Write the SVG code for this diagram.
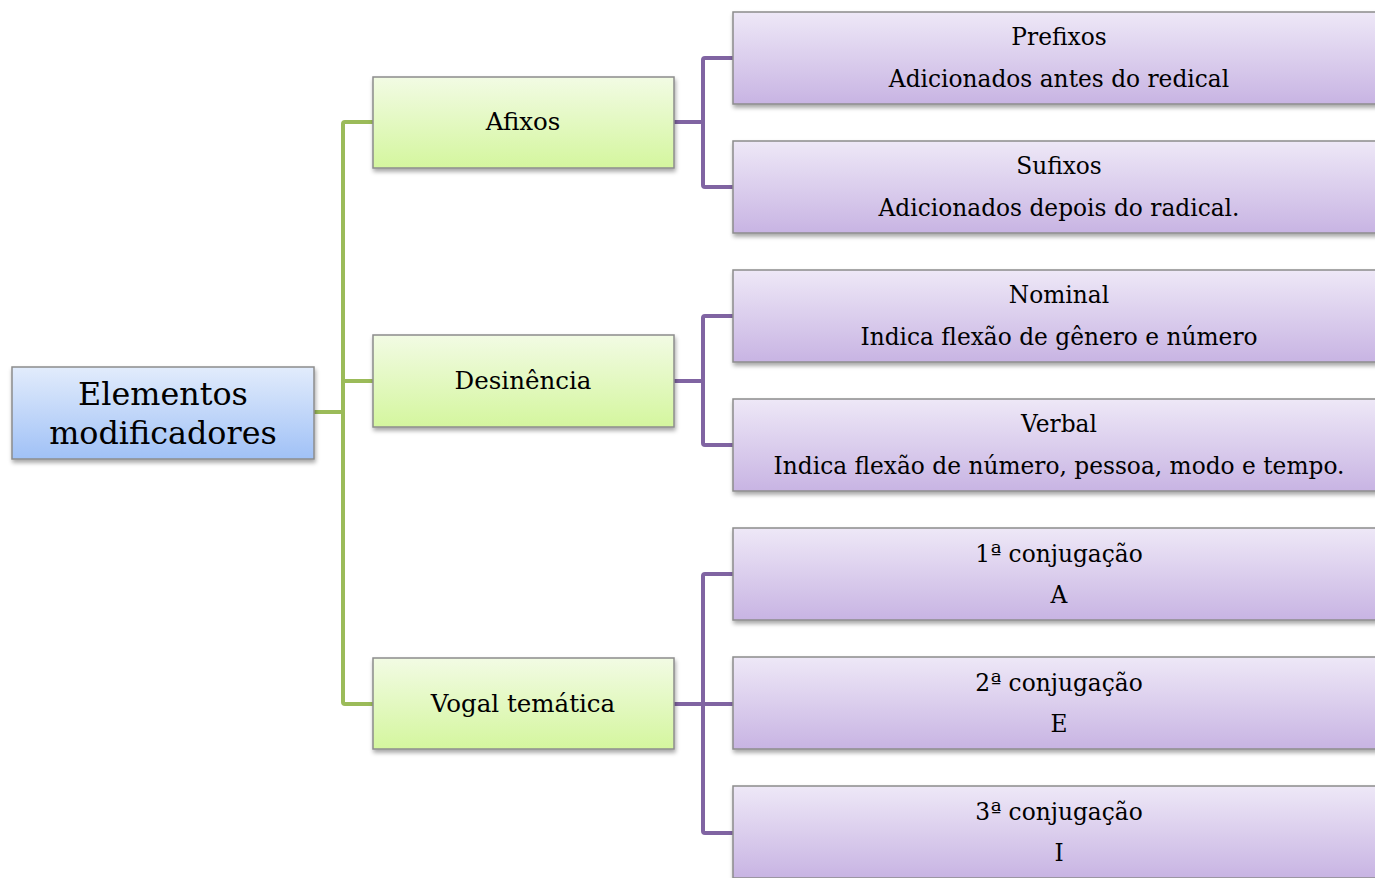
<svg xmlns="http://www.w3.org/2000/svg" width="1375" height="878" viewBox="0 0 1375 878">
<defs>
<linearGradient id="gb" x1="0" y1="0" x2="0" y2="1"><stop offset="0" stop-color="#e2ecfc"/><stop offset="1" stop-color="#a0c1f6"/></linearGradient>
<linearGradient id="gg" x1="0" y1="0" x2="0" y2="1"><stop offset="0" stop-color="#f2fbe4"/><stop offset="1" stop-color="#d4f69e"/></linearGradient>
<linearGradient id="gp" x1="0" y1="0" x2="0" y2="1"><stop offset="0" stop-color="#eee8f7"/><stop offset="1" stop-color="#c8b4e3"/></linearGradient>
<filter id="sh" x="-5%" y="-10%" width="110%" height="130%"><feDropShadow dx="1" dy="3" stdDeviation="2" flood-color="#000" flood-opacity="0.35"/></filter>
</defs>
<style>
.n{stroke:#8c8c8c;stroke-width:1.5;filter:url(#sh)}
.b{fill:url(#gb)}.g{fill:url(#gg)}.p{fill:url(#gp)}
text{font-family:"DejaVu Serif","Liberation Serif",serif;fill:#000;text-anchor:middle}
.t{font-size:23.3px}.tg{font-size:24.5px}.r{font-size:31.8px}
.cg{fill:none;stroke:#9bbb59;stroke-width:4;stroke-linejoin:round}
.cp{fill:none;stroke:#8064a2;stroke-width:4;stroke-linejoin:round}
</style>
<g id="connectors">
<path class="cg" d="M314 412H343M373 122H345Q343 122 343 124V702Q343 704 345 704H373M343 381H373"/>
<path class="cp" d="M674 122H703M733 58H705Q703 58 703 60V185Q703 187 705 187H733"/>
<path class="cp" d="M674 381H703M733 316H705Q703 316 703 318V443Q703 445 705 445H733"/>
<path class="cp" d="M674 704H733M733 574H705Q703 574 703 576V831Q703 833 705 833H733"/>
</g>
<g id="root"><rect class="n b" x="12" y="367" width="302" height="92"/><text class="r" x="163" y="405">Elementos</text><text class="r" x="163" y="444">modificadores</text></g>
<g id="afixos"><rect class="n g" x="373" y="77" width="301" height="91"/><text class="tg" x="523" y="130">Afixos</text></g>
<g id="desinencia"><rect class="n g" x="373" y="335" width="301" height="92"/><text class="tg" x="523" y="389">Desinência</text></g>
<g id="vogal"><rect class="n g" x="373" y="658" width="301" height="91"/><text class="tg" x="523" y="712">Vogal temática</text></g>
<g id="prefixos"><rect class="n p" x="733" y="12" width="660" height="92"/><text class="t" x="1059" y="45">Prefixos</text><text class="t" x="1059" y="87">Adicionados antes do redical</text></g>
<g id="sufixos"><rect class="n p" x="733" y="141" width="660" height="92"/><text class="t" x="1059" y="174">Sufixos</text><text class="t" x="1059" y="216">Adicionados depois do radical.</text></g>
<g id="nominal"><rect class="n p" x="733" y="270" width="660" height="92"/><text class="t" x="1059" y="303">Nominal</text><text class="t" x="1059" y="345">Indica flexão de gênero e número</text></g>
<g id="verbal"><rect class="n p" x="733" y="399" width="660" height="92"/><text class="t" x="1059" y="432">Verbal</text><text class="t" x="1059" y="474">Indica flexão de número, pessoa, modo e tempo.</text></g>
<g id="conj1"><rect class="n p" x="733" y="528" width="660" height="92"/><text class="t" x="1059" y="562">1ª conjugação</text><text class="t" x="1059" y="603">A</text></g>
<g id="conj2"><rect class="n p" x="733" y="657" width="660" height="92"/><text class="t" x="1059" y="691">2ª conjugação</text><text class="t" x="1059" y="732">E</text></g>
<g id="conj3"><rect class="n p" x="733" y="786" width="660" height="92"/><text class="t" x="1059" y="820">3ª conjugação</text><text class="t" x="1059" y="861">I</text></g>
</svg>
